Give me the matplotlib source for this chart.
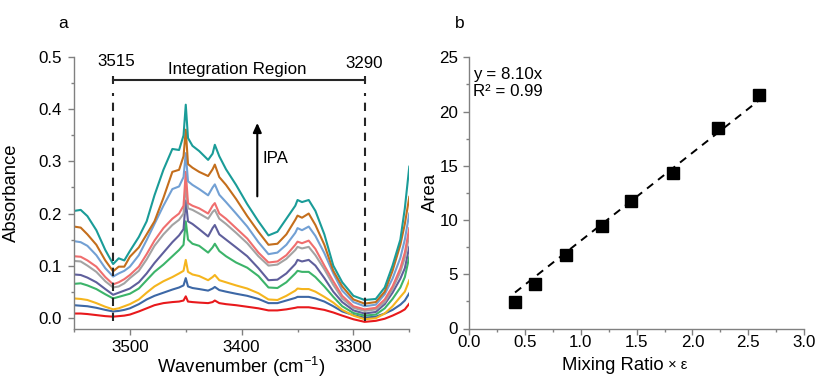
import matplotlib
matplotlib.use("Agg")
import matplotlib.pyplot as plt
from matplotlib.ticker import MultipleLocator, FormatStrFormatter

plt.rcParams['font.family'] = ['Liberation Sans', 'DejaVu Sans']
plt.rcParams['mathtext.fontset'] = 'custom'
plt.rcParams['mathtext.rm'] = 'Liberation Sans'
plt.rcParams['mathtext.it'] = 'Liberation Sans:italic'

# ---------------- data: panel a (spectra) ----------------
wavenumber = [3550, 3544, 3538, 3530, 3522, 3515, 3510, 3505, 3500, 3492, 3485, 3478,
              3470, 3462, 3456, 3452, 3450, 3448, 3444, 3438, 3430, 3426, 3424, 3420,
              3414, 3405, 3395, 3385, 3376, 3368, 3360, 3352, 3350, 3346, 3340, 3334,
              3326, 3318, 3310, 3300, 3290, 3280, 3272, 3265, 3258, 3254, 3250]

abs_red = [0.008, 0.008, 0.007, 0.005, 0.003, 0.002, 0.003, 0.004, 0.006, 0.012, 0.018, 0.024,
           0.028, 0.030, 0.031, 0.033, 0.041, 0.031, 0.030, 0.029, 0.028, 0.030, 0.033, 0.028,
           0.026, 0.024, 0.021, 0.018, 0.014, 0.014, 0.016, 0.019, 0.020, 0.020, 0.020, 0.018,
           0.015, 0.010, 0.004, -0.003, -0.008, -0.006, -0.002, 0.004, 0.011, 0.016, 0.027]
abs_blue = [0.024, 0.023, 0.022, 0.019, 0.015, 0.012, 0.013, 0.015, 0.018, 0.026, 0.035, 0.042,
            0.048, 0.054, 0.058, 0.062, 0.076, 0.060, 0.057, 0.055, 0.052, 0.056, 0.059, 0.053,
            0.050, 0.046, 0.042, 0.036, 0.028, 0.028, 0.033, 0.038, 0.040, 0.040, 0.040, 0.037,
            0.031, 0.022, 0.012, 0.005, 0.000, 0.002, 0.008, 0.015, 0.025, 0.033, 0.047]
abs_yellow = [0.037, 0.036, 0.034, 0.028, 0.021, 0.016, 0.018, 0.022, 0.026, 0.035, 0.048, 0.060,
              0.070, 0.078, 0.085, 0.090, 0.111, 0.088, 0.083, 0.080, 0.072, 0.078, 0.082, 0.072,
              0.068, 0.062, 0.056, 0.047, 0.035, 0.034, 0.042, 0.052, 0.056, 0.055, 0.055, 0.050,
              0.040, 0.029, 0.015, 0.004, -0.003, -0.001, 0.008, 0.022, 0.040, 0.050, 0.072]
abs_green = [0.065, 0.066, 0.062, 0.055, 0.045, 0.037, 0.040, 0.043, 0.046, 0.056, 0.072, 0.088,
             0.102, 0.118, 0.130, 0.140, 0.185, 0.150, 0.142, 0.138, 0.125, 0.135, 0.142, 0.128,
             0.118, 0.106, 0.096, 0.080, 0.058, 0.057, 0.068, 0.085, 0.090, 0.088, 0.088, 0.078,
             0.060, 0.040, 0.022, 0.009, 0.004, 0.006, 0.018, 0.036, 0.058, 0.078, 0.117]
abs_purple = [0.083, 0.082, 0.077, 0.068, 0.055, 0.044, 0.048, 0.052, 0.056, 0.068, 0.085, 0.105,
              0.125, 0.145, 0.158, 0.170, 0.225, 0.185, 0.180, 0.170, 0.156, 0.172, 0.178, 0.160,
              0.150, 0.135, 0.118, 0.095, 0.072, 0.073, 0.085, 0.103, 0.111, 0.108, 0.111, 0.100,
              0.076, 0.050, 0.030, 0.014, 0.008, 0.011, 0.026, 0.048, 0.075, 0.095, 0.136]
abs_gray = [0.109, 0.108, 0.100, 0.088, 0.070, 0.058, 0.060, 0.066, 0.076, 0.090, 0.112, 0.138,
            0.160, 0.178, 0.188, 0.200, 0.255, 0.210, 0.207, 0.200, 0.190, 0.203, 0.207, 0.190,
            0.180, 0.163, 0.143, 0.118, 0.100, 0.102, 0.113, 0.130, 0.136, 0.133, 0.136, 0.120,
            0.093, 0.063, 0.037, 0.019, 0.013, 0.016, 0.030, 0.055, 0.088, 0.115, 0.159]
abs_salmon = [0.118, 0.117, 0.110, 0.098, 0.078, 0.064, 0.068, 0.074, 0.082, 0.098, 0.122, 0.148,
              0.172, 0.190, 0.200, 0.215, 0.280, 0.220, 0.215, 0.210, 0.200, 0.215, 0.220, 0.200,
              0.190, 0.172, 0.152, 0.125, 0.106, 0.108, 0.120, 0.140, 0.146, 0.143, 0.148, 0.132,
              0.100, 0.070, 0.042, 0.022, 0.016, 0.019, 0.035, 0.060, 0.095, 0.125, 0.172]
abs_lightblue = [0.147, 0.145, 0.138, 0.120, 0.095, 0.079, 0.085, 0.090, 0.098, 0.120, 0.149, 0.180,
                 0.215, 0.247, 0.252, 0.270, 0.316, 0.262, 0.255, 0.247, 0.235, 0.250, 0.256, 0.236,
                 0.222, 0.200, 0.175, 0.145, 0.122, 0.125, 0.140, 0.163, 0.172, 0.168, 0.175, 0.157,
                 0.124, 0.085, 0.052, 0.030, 0.022, 0.025, 0.045, 0.075, 0.115, 0.150, 0.200]
abs_orange = [0.175, 0.173, 0.160, 0.140, 0.110, 0.089, 0.098, 0.098, 0.117, 0.135, 0.160, 0.185,
              0.230, 0.280, 0.284, 0.310, 0.361, 0.295, 0.288, 0.280, 0.272, 0.285, 0.294, 0.270,
              0.255, 0.228, 0.195, 0.165, 0.140, 0.142, 0.160, 0.188, 0.196, 0.192, 0.200, 0.178,
              0.140, 0.090, 0.060, 0.035, 0.027, 0.030, 0.050, 0.090, 0.140, 0.180, 0.232]
abs_teal = [0.205, 0.207, 0.195, 0.168, 0.130, 0.103, 0.114, 0.110, 0.128, 0.155, 0.185, 0.235,
            0.284, 0.324, 0.322, 0.350, 0.409, 0.345, 0.330, 0.320, 0.303, 0.315, 0.332, 0.310,
            0.285, 0.255, 0.218, 0.185, 0.158, 0.165, 0.190, 0.215, 0.226, 0.222, 0.226, 0.205,
            0.160, 0.100, 0.068, 0.042, 0.034, 0.036, 0.058, 0.100, 0.150, 0.210, 0.290]

spectra = [abs_red, abs_blue, abs_yellow, abs_green, abs_purple,
           abs_gray, abs_salmon, abs_lightblue, abs_orange, abs_teal]
spectra_colors = ['#e8191c', '#3d68a6', '#f5b51e', '#3cb46a', '#5f5f9c',
                  '#a3a3a3', '#f06e6e', '#72a0d4', '#c46e1c', '#1a9c98']

region_start = 3515
region_end = 3290

# ---------------- data: panel b (calibration) ----------------
mixing_eps = [0.41, 0.59, 0.87, 1.19, 1.45, 1.83, 2.23, 2.60]
area = [2.43, 4.09, 6.73, 9.44, 11.74, 14.36, 18.48, 21.49]
fit_slope = 8.10

# ---------------- figure ----------------
W, H = 817, 382
fig = plt.figure(figsize=(W / 100, H / 100), dpi=100)


def px_axes(left, top, right, bottom):
    return fig.add_axes([left / W, 1 - bottom / H, (right - left) / W, (bottom - top) / H])


spine_col = '#808080'
tick_fs = 12.2
label_fs = 13.3

axa = px_axes(74, 57.3, 409.3, 329)
axb = px_axes(469.3, 57.3, 804, 328.5)

for ax in (axa, axb):
    for s in ('top', 'right'):
        ax.spines[s].set_visible(False)
    for s in ('left', 'bottom'):
        ax.spines[s].set_color(spine_col)
        ax.spines[s].set_linewidth(1.0)
    ax.tick_params(which='both', direction='out', color=spine_col, labelsize=tick_fs,
                   labelcolor='black', width=1.0)
    ax.tick_params(which='major', length=4)
    ax.tick_params(which='minor', length=2.5)

# ---- panel a ----
for ys, c in zip(spectra, spectra_colors):
    axa.plot(wavenumber, ys, color=c, lw=1.5, solid_joinstyle='round')

axa.set_xlim(3550, 3250)
axa.set_ylim(-0.0217, 0.5)
axa.xaxis.set_major_locator(MultipleLocator(100))
axa.xaxis.set_minor_locator(MultipleLocator(50))
axa.yaxis.set_major_locator(MultipleLocator(0.1))
axa.yaxis.set_minor_locator(MultipleLocator(0.05))
axa.yaxis.set_major_formatter(FormatStrFormatter('%.1f'))
axa.tick_params(axis='x', pad=4)
axa.tick_params(axis='y', pad=5)

dash_col = '#262626'
for xv in (region_start, region_end):
    axa.plot([xv, xv], [-0.006, 0.432], color=dash_col, lw=1.5, dashes=(4, 3.2))
axa.plot([region_start, region_end], [0.456, 0.456], color=dash_col, lw=1.5)
axa.plot([region_start, region_end], [0.456, 0.456], ls='none', marker='|',
         ms=6, mew=1.5, color=dash_col)
axa.text(region_start - 3, 0.491, str(region_start), ha='center', va='center', fontsize=tick_fs)
axa.text(region_end, 0.488, str(region_end), ha='center', va='center', fontsize=tick_fs)
axa.text(3403.5, 0.476, 'Integration Region', ha='center', va='center', fontsize=tick_fs)

axa.annotate('', xy=(3386, 0.374), xytext=(3386, 0.233),
             arrowprops=dict(arrowstyle='-|>,head_length=0.55,head_width=0.25',
                             color='black', lw=1.5, shrinkA=0, shrinkB=0))
axa.text(3381, 0.306, 'IPA', ha='left', va='center', fontsize=tick_fs)

axa.set_xlabel('Wavenumber (cm$^{\\mathregular{-1}}$)', fontsize=label_fs)
axa.set_ylabel('Absorbance', fontsize=label_fs)
axa.xaxis.set_label_coords(0.5, -0.097)
axa.yaxis.set_label_coords(-0.16, 0.5)

# ---- panel b ----
x_fit = [mixing_eps[0], mixing_eps[-1]]
y_fit = [fit_slope * v for v in x_fit]
axb.plot(x_fit, y_fit, color='black', lw=1.4, dashes=(4, 3.2))
axb.plot(mixing_eps, area, ls='none', marker='s', ms=9, color='black', clip_on=False)

axb.set_xlim(0, 3.0)
axb.set_ylim(0, 25)
axb.xaxis.set_major_locator(MultipleLocator(0.5))
axb.xaxis.set_minor_locator(MultipleLocator(0.25))
axb.yaxis.set_major_locator(MultipleLocator(5))
axb.yaxis.set_minor_locator(MultipleLocator(2.5))
axb.xaxis.set_major_formatter(FormatStrFormatter('%.1f'))
axb.tick_params(axis='x', pad=0.5)
axb.tick_params(axis='y', pad=4)

axb.text(0.012, 0.965, 'y = %.2fx\nR² = 0.99' % fit_slope, transform=axb.transAxes,
         ha='left', va='top', fontsize=tick_fs, linespacing=1.15)

axb.set_xlabel('Mixing Ratio', fontsize=label_fs)
axb.xaxis.set_label_coords(0.43, -0.105)
axb.set_ylabel('Area', fontsize=label_fs)
axb.yaxis.set_label_coords(-0.09, 0.5)
axb.annotate(' \u00d7 \u03b5', xy=(1, 0.1), xycoords=axb.xaxis.label,
             ha='left', va='bottom', fontsize=10.5)

fig.text(63 / W, 1 - 23 / H, 'a', ha='center', va='center', fontsize=12.5)
fig.text(460 / W, 1 - 23 / H, 'b', ha='center', va='center', fontsize=12.5)

fig.savefig('out.png', dpi=100)
